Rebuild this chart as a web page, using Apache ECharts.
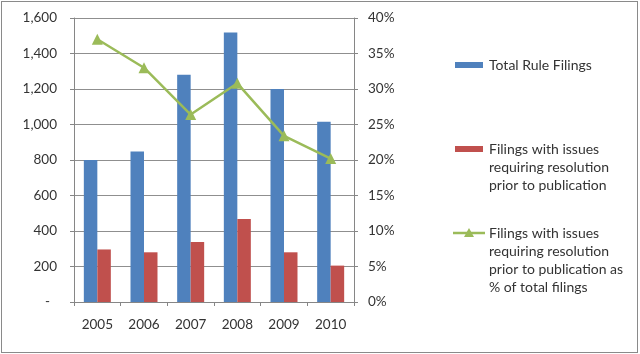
<!DOCTYPE html>
<html>
<head>
<meta charset="utf-8">
<script src="https://cdn.jsdelivr.net/npm/echarts@6/dist/echarts.min.js"></script>
<style>
html,body{margin:0;padding:0;background:#fff;}
#wrap{position:absolute;left:1px;top:1px;width:637px;height:352px;border:1px solid #8a8a8a;box-sizing:border-box;}
#chart{position:absolute;left:0;top:0;width:640px;height:354px;}
</style>
</head>
<body>
<div id="wrap"></div>
<div id="chart"></div>
<script>
const years = ['2005','2006','2007','2008','2009','2010'];
const totalFilings = [800, 848, 1280, 1518, 1200, 1016];
const issueFilings = [296, 280, 338, 468, 280, 205];
const issuePct = [37.0, 33.0, 26.4, 30.8, 23.4, 20.2];
const leftTicks = {min: 0, max: 1600, interval: 200};
const rightTicks = {min: 0, max: 40, interval: 5};
const seriesNames = [
  'Total Rule Filings',
  'Filings with issues\nrequiring resolution\nprior to publication',
  'Filings with issues\nrequiring resolution\nprior to publication as\n% of total filings'
];

const FONT = 'Lato';
const TXT = '#333';
const chart = echarts.init(document.getElementById('chart'), null, {renderer:'canvas'});
const legendText = (x, y, t) => ({
  type:'text', left:x, top:y,
  style:{text:t, font:'14px ' + FONT, fill:TXT, lineHeight:18, verticalAlign:'top'}
});
chart.setOption({
  animation:false,
  grid:{left:74, right:286, top:18, bottom:52, containLabel:false},
  xAxis:{
    type:'category', data:years,
    axisLine:{lineStyle:{color:'#868686'}},
    axisTick:{show:true, alignWithLabel:false, length:4, lineStyle:{color:'#868686'}},
    axisLabel:{color:TXT, fontFamily:FONT, fontSize:13.5, margin:16}
  },
  yAxis:[{
    type:'value', min:leftTicks.min, max:leftTicks.max, interval:leftTicks.interval,
    axisLine:{show:true, lineStyle:{color:'#868686'}},
    axisTick:{show:true, length:4, lineStyle:{color:'#868686'}},
    splitLine:{lineStyle:{color:'#8f8f8f'}},
    axisLabel:{color:TXT, fontFamily:FONT, fontSize:13.5, margin:17,
      formatter:v => v === 0 ? '-  ' : v.toLocaleString('en-US')}
  },{
    type:'value', min:rightTicks.min, max:rightTicks.max, interval:rightTicks.interval,
    position:'right',
    axisLine:{show:true, lineStyle:{color:'#868686'}},
    axisTick:{show:true, length:4, lineStyle:{color:'#868686'}},
    splitLine:{show:false},
    axisLabel:{color:TXT, fontFamily:FONT, fontSize:13.5, margin:14, formatter:v => v + '%'}
  }],
  series:[{
    name:seriesNames[0], type:'bar', data:totalFilings, barWidth:13.5, barGap:'0%',
    itemStyle:{color:'#4F81BD'}
  },{
    name:seriesNames[1], type:'bar', data:issueFilings, barWidth:13.5, barGap:'0%',
    itemStyle:{color:'#C0504D'}
  },{
    name:seriesNames[2], type:'line', yAxisIndex:1, data:issuePct,
    symbol:'triangle', symbolSize:11, showSymbol:true,
    lineStyle:{color:'#9BBB59', width:2.5},
    itemStyle:{color:'#9BBB59'}
  }],
  graphic:[
    {type:'rect', shape:{x:455, y:62, width:28, height:6}, style:{fill:'#4F81BD'}},
    legendText(489, 56, seriesNames[0]),
    {type:'rect', shape:{x:455, y:146, width:28, height:6}, style:{fill:'#C0504D'}},
    legendText(489, 140, seriesNames[1]),
    {type:'line', shape:{x1:453, y1:233, x2:485, y2:233}, style:{stroke:'#9BBB59', lineWidth:2.5}},
    {type:'polygon', shape:{points:[[469,228],[474,237],[464,237]]}, style:{fill:'#9BBB59'}},
    legendText(489, 224, seriesNames[2])
  ]
});
</script>
</body>
</html>
